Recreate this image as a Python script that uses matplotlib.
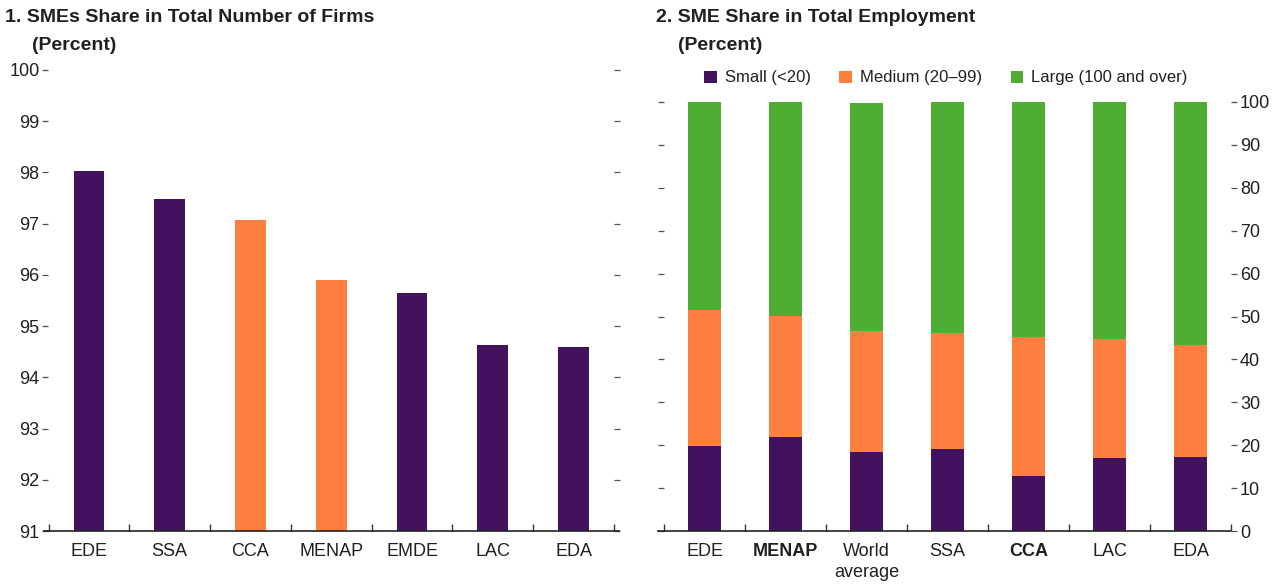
import matplotlib
matplotlib.use("Agg")
import matplotlib.pyplot as plt
from matplotlib.patches import Patch
from matplotlib import font_manager as fm

# ---------------- data ----------------
firms_cats = ["EDE", "SSA", "CCA", "MENAP", "EMDE", "LAC", "EDA"]
firms_vals = [98.02, 97.48, 97.07, 95.90, 95.65, 94.63, 94.59]
firms_highlight = [False, False, True, True, False, False, False]

emp_cats = ["EDE", "MENAP", "World\naverage", "SSA", "CCA", "LAC", "EDA"]
emp_bold = [False, True, False, False, True, False, False]
small = [19.7, 22.0, 18.3, 19.2, 12.9, 16.9, 17.3]
medium = [31.9, 28.2, 28.3, 27.0, 32.3, 27.9, 26.1]
large = [48.4, 49.8, 53.1, 53.8, 54.8, 55.2, 56.6]
legend_labels = ["Small (<20)", "Medium (20–99)", "Large (100 and over)"]

left_yticks = list(range(91, 101))
right_yticks = list(range(0, 101, 10))

# ---------------- style ----------------
names = {f.name for f in fm.fontManager.ttflist}
FONT = "Liberation Sans Narrow" if "Liberation Sans Narrow" in names else "Liberation Sans"
plt.rcParams["font.family"] = [FONT, "DejaVu Sans"]

PURPLE = "#43125F"
ORANGE = "#FF7F41"
GREEN = "#4EAD32"
TXT = "#231F20"
TICKC = "#555555"

fig = plt.figure(figsize=(12.76, 5.84), dpi=100)

W, H = 1276, 584
def rect(x0, x1, ytop, ybot):
    return [x0 / W, 1 - ybot / H, (x1 - x0) / W, (ybot - ytop) / H]

ax1 = fig.add_axes(rect(48.5, 614, 70, 531))
ax2 = fig.add_axes(rect(664, 1231, 102, 531))

TICK_FS = 13

def base_style(ax):
    for s in ["top", "right", "left", "bottom"]:
        ax.spines[s].set_visible(False)
    ax.set_xlim(-0.5, 6.5)
    ax.set_xticks(range(7))
    ax.set_xticks([i - 0.5 for i in range(8)], minor=True)
    ax.tick_params(axis="x", which="major", length=0, pad=8.5, labelsize=TICK_FS, labelcolor=TXT)
    ax.tick_params(axis="x", which="minor", direction="in", length=5, width=1, color="#333333")

# ---------- panel 1 ----------
base_style(ax1)
x = range(len(firms_cats))
cols = [ORANGE if h else PURPLE for h in firms_highlight]
ax1.bar(x, firms_vals, width=0.38, color=cols, zorder=2)
ax1.set_ylim(91, 100)
ax1.set_yticks(left_yticks)
ax1.tick_params(axis="y", which="major", left=True, right=True, labelleft=True, labelright=False,
                direction="out", length=4.5, width=0.9, color=TICKC, pad=2,
                labelsize=TICK_FS, labelcolor=TXT)
ax1.set_xticklabels(firms_cats)
ax1.plot([-0.5 - 0.07, 6.5 + 0.07], [91, 91], color="#222222", lw=1.2, clip_on=False,
         zorder=3, solid_capstyle="butt")

# ---------- panel 2 ----------
base_style(ax2)
x = range(len(emp_cats))
b2 = [s + m for s, m in zip(small, medium)]
ax2.bar(x, small, width=0.41, color=PURPLE, zorder=2)
ax2.bar(x, medium, width=0.41, bottom=small, color=ORANGE, zorder=2)
ax2.bar(x, large, width=0.41, bottom=b2, color=GREEN, zorder=2)
ax2.set_ylim(0, 100)
ax2.set_yticks(right_yticks)
ax2.tick_params(axis="y", which="major", left=True, right=True, labelleft=False, labelright=True,
                direction="out", length=4.5, width=0.9, color=TICKC, pad=2,
                labelsize=TICK_FS, labelcolor=TXT)
ax2.set_xticklabels(emp_cats)
for lab, b in zip(ax2.get_xticklabels(), emp_bold):
    lab.set_linespacing(1.3)
    if b:
        lab.set_fontweight("bold")
ax2.plot([-0.5 - 0.086, 6.5], [0, 0], color="#222222", lw=1.2, clip_on=False,
         zorder=3, solid_capstyle="butt")

handles = [Patch(facecolor=c, edgecolor="none") for c in (PURPLE, ORANGE, GREEN)]
fig.legend(handles, legend_labels, loc="center", bbox_to_anchor=(946 / W, 1 - 78 / H),
           ncol=3, frameon=False, fontsize=12, handlelength=0.75, handleheight=0.75,
           handletextpad=0.5, columnspacing=1.7, labelcolor=TXT)

# ---------- titles ----------
TFS = 14
fig.text(5 / W, 1 - 18 / H, "1. SMEs Share in Total Number of Firms", fontsize=TFS,
         fontweight="bold", color=TXT, va="center", ha="left")
fig.text(32 / W, 1 - 45 / H, "(Percent)", fontsize=TFS, fontweight="bold", color=TXT,
         va="center", ha="left")
fig.text(656 / W, 1 - 18 / H, "2. SME Share in Total Employment", fontsize=TFS,
         fontweight="bold", color=TXT, va="center", ha="left")
fig.text(678 / W, 1 - 45 / H, "(Percent)", fontsize=TFS, fontweight="bold", color=TXT,
         va="center", ha="left")

fig.savefig("out.png", dpi=100)
